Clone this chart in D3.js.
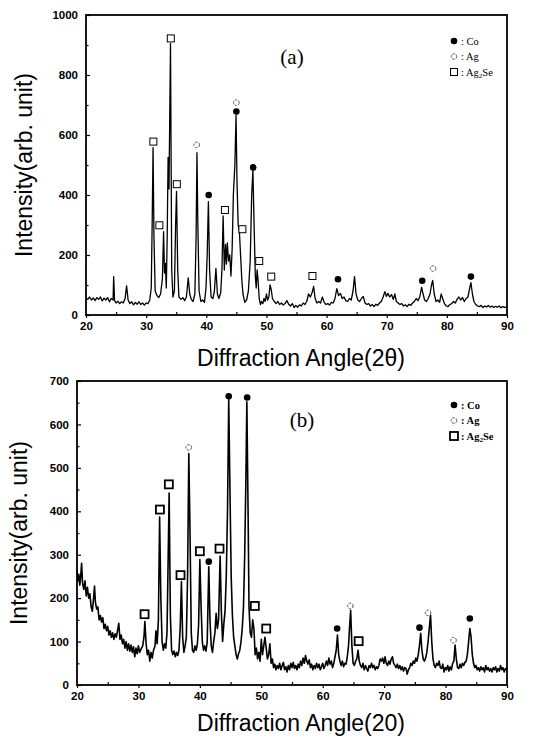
<!DOCTYPE html>
<html>
<head>
<meta charset="utf-8">
<script src="https://cdn.jsdelivr.net/npm/d3@7"></script>
<style>
  body { margin: 0; background: #fff; }
  svg { display: block; }
</style>
</head>
<body>
<script>
// XRD pattern (a): [2theta, intensity]
const patternA = [
  [20.0,58],[20.3,52],[20.6,60],[20.9,50],[21.2,57],[21.5,48],[21.8,58],[22.1,52],[22.4,60],[22.7,47],
  [23.0,56],[23.3,50],[23.6,58],[23.9,44],[24.2,55],[24.5,50],[24.6,128],[24.75,48],[25.0,40],[25.3,46],
  [25.6,38],[25.9,44],[26.2,40],[26.5,55],[26.75,97],[27.0,50],[27.3,38],[27.6,44],[27.9,34],[28.2,42],
  [28.5,36],[28.8,44],[29.1,35],[29.4,40],[29.7,33],[30.0,40],[30.3,38],[30.6,50],[30.85,90],[31.0,300],
  [31.15,558],[31.3,260],[31.5,80],[31.8,65],[32.1,58],[32.4,70],[32.7,120],[32.9,278],[33.05,140],[33.2,172],
  [33.35,90],[33.5,260],[33.65,525],[33.8,420],[34.05,905],[34.25,150],[34.45,60],[34.7,80],[34.9,300],[35.05,412],
  [35.25,150],[35.45,60],[35.8,52],[36.1,58],[36.4,48],[36.7,60],[37.0,124],[37.25,70],[37.5,52],[37.8,45],
  [38.1,70],[38.3,250],[38.45,541],[38.6,300],[38.8,80],[39.1,45],[39.4,50],[39.7,42],[39.95,90],[40.15,200],
  [40.35,378],[40.55,150],[40.8,60],[41.1,55],[41.35,80],[41.6,155],[41.85,70],[42.1,55],[42.4,75],[42.6,150],
  [42.8,330],[43.0,150],[43.2,235],[43.35,170],[43.5,240],[43.7,180],[43.9,200],[44.1,130],[44.3,220],[44.5,400],
  [44.75,500],[44.95,665],[45.1,450],[45.3,300],[45.5,280],[45.7,200],[45.9,120],[46.1,70],[46.4,42],[46.7,50],
  [47.0,80],[47.3,180],[47.55,400],[47.75,483],[47.95,300],[48.15,130],[48.3,90],[48.45,150],[48.6,120],[48.8,55],
  [49.0,35],[49.2,45],[49.4,38],[49.6,55],[49.8,45],[50.0,70],[50.2,50],[50.4,60],[50.6,100],[50.8,85],
  [51.0,55],[51.3,45],[51.6,38],[51.9,45],[52.2,35],[52.5,40],[52.8,33],[53.1,38],[53.4,48],[53.7,36],
  [54.0,30],[54.3,38],[54.6,25],[54.9,32],[55.2,26],[55.5,34],[55.8,30],[56.1,40],[56.4,35],[56.7,45],
  [57.0,70],[57.3,60],[57.6,75],[57.85,95],[58.1,55],[58.4,40],[58.7,45],[59.0,40],[59.3,60],[59.6,42],
  [59.9,35],[60.2,38],[60.5,33],[60.8,42],[61.1,40],[61.4,55],[61.7,88],[62.0,65],[62.3,72],[62.6,55],
  [62.9,60],[63.2,48],[63.5,45],[63.8,55],[64.1,50],[64.4,80],[64.65,128],[64.9,70],[65.2,50],[65.5,45],
  [65.8,55],[66.1,62],[66.4,40],[66.7,35],[67.0,38],[67.3,30],[67.6,35],[67.9,28],[68.2,36],[68.5,32],
  [68.8,40],[69.1,45],[69.4,60],[69.7,78],[69.95,62],[70.2,72],[70.5,60],[70.8,68],[71.1,52],[71.35,70],
  [71.6,45],[71.9,40],[72.2,35],[72.5,38],[72.8,30],[73.1,34],[73.4,28],[73.7,36],[74.0,32],[74.3,40],
  [74.6,45],[74.9,55],[75.2,48],[75.5,60],[75.8,92],[76.05,70],[76.3,50],[76.6,45],[76.9,55],[77.2,70],
  [77.45,100],[77.65,115],[77.9,70],[78.2,45],[78.5,50],[78.8,42],[79.05,70],[79.3,55],[79.6,38],[79.9,30],
  [80.2,28],[80.5,35],[80.8,38],[81.1,45],[81.4,40],[81.7,52],[82.0,60],[82.3,50],[82.6,58],[82.9,45],
  [83.2,55],[83.5,60],[83.8,90],[84.0,108],[84.25,70],[84.5,45],[84.8,35],[85.1,30],[85.4,28],[85.7,32],
  [86.0,25],[86.3,30],[86.6,27],[86.9,32],[87.2,26],[87.5,30],[87.8,25],[88.1,29],[88.4,26],[88.7,30],
  [89.0,24],[89.3,28],[89.6,25],[90.0,27]
];

// XRD pattern (b)
const patternB = [
  [20.0,265],[20.15,240],[20.3,255],[20.45,230],[20.6,250],[20.75,280],[20.9,235],[21.1,220],[21.3,240],[21.5,205],
  [21.7,225],[21.9,200],[22.1,210],[22.3,180],[22.5,170],[22.7,200],[22.85,228],[23.0,190],[23.2,175],[23.4,180],
  [23.6,150],[23.8,160],[24.0,145],[24.2,155],[24.4,130],[24.6,140],[24.8,125],[25.0,135],[25.2,115],[25.4,125],
  [25.6,110],[25.8,120],[26.0,105],[26.2,118],[26.4,110],[26.6,125],[26.8,142],[27.0,105],[27.2,115],[27.4,95],
  [27.6,105],[27.8,85],[28.0,100],[28.2,80],[28.4,95],[28.6,78],[28.8,92],[29.0,75],[29.2,88],[29.4,65],
  [29.6,85],[29.8,72],[30.0,90],[30.2,75],[30.4,82],[30.7,90],[30.9,110],[31.05,146],[31.25,95],[31.45,70],
  [31.65,80],[31.85,55],[32.05,75],[32.25,62],[32.45,80],[32.7,90],[32.85,125],[33.05,95],[33.25,150],[33.45,387],
  [33.65,200],[33.85,100],[34.05,80],[34.25,95],[34.45,85],[34.65,120],[34.85,300],[35.0,442],[35.2,160],[35.4,80],
  [35.6,70],[35.8,78],[36.0,65],[36.2,75],[36.4,68],[36.6,80],[36.8,130],[37.0,238],[37.2,110],[37.4,75],
  [37.6,90],[37.8,110],[38.0,250],[38.2,533],[38.4,350],[38.6,120],[38.8,80],[39.0,75],[39.2,90],[39.4,80],
  [39.6,95],[39.8,140],[40.0,289],[40.2,180],[40.4,100],[40.6,80],[40.8,90],[41.0,78],[41.2,100],[41.45,272],
  [41.65,150],[41.85,90],[42.05,75],[42.25,100],[42.45,120],[42.65,165],[42.85,130],[43.05,150],[43.3,297],[43.5,170],
  [43.7,100],[43.9,140],[44.1,170],[44.3,250],[44.5,400],[44.7,657],[44.9,450],[45.1,250],[45.3,160],[45.5,110],
  [45.7,90],[45.9,70],[46.1,60],[46.3,72],[46.5,80],[46.7,100],[46.9,130],[47.1,180],[47.3,300],[47.5,480],
  [47.65,652],[47.85,400],[48.0,180],[48.2,120],[48.4,110],[48.6,150],[48.8,130],[49.0,70],[49.2,85],[49.4,60],
  [49.6,75],[49.8,55],[50.0,105],[50.2,70],[50.4,90],[50.6,110],[50.8,85],[51.0,60],[51.2,70],[51.4,95],
  [51.6,50],[51.8,60],[52.0,40],[52.2,48],[52.4,35],[52.6,45],[52.8,38],[53.0,50],[53.2,35],[53.4,45],
  [53.6,52],[53.8,35],[54.0,42],[54.2,30],[54.4,45],[54.6,35],[54.8,50],[55.0,40],[55.2,52],[55.4,38],
  [55.6,45],[55.8,35],[56.0,48],[56.2,40],[56.4,55],[56.6,45],[56.8,62],[57.0,50],[57.2,68],[57.4,55],
  [57.6,48],[57.8,58],[58.0,40],[58.2,48],[58.4,35],[58.6,45],[58.8,38],[59.0,50],[59.2,40],[59.4,48],
  [59.6,35],[59.8,42],[60.0,50],[60.2,38],[60.4,45],[60.6,55],[60.8,45],[61.0,62],[61.2,48],[61.4,55],
  [61.6,40],[61.8,50],[62.0,65],[62.2,80],[62.4,115],[62.6,70],[62.8,55],[63.0,45],[63.2,55],[63.4,42],
  [63.6,50],[63.8,48],[64.0,65],[64.2,90],[64.4,140],[64.55,172],[64.75,90],[64.95,50],[65.15,45],[65.35,55],
  [65.55,60],[65.75,80],[65.95,55],[66.15,45],[66.35,40],[66.55,50],[66.75,35],[66.95,45],[67.15,38],[67.35,32],
  [67.55,45],[67.75,40],[67.95,50],[68.15,40],[68.35,45],[68.55,35],[68.75,42],[68.95,38],[69.15,45],[69.35,60],
  [69.55,55],[69.75,62],[69.95,50],[70.15,65],[70.35,50],[70.55,45],[70.75,55],[70.95,48],[71.15,60],[71.35,65],
  [71.55,50],[71.75,45],[71.95,40],[72.15,48],[72.35,38],[72.55,45],[72.75,35],[72.95,42],[73.15,32],[73.35,40],
  [73.55,38],[73.75,25],[73.95,35],[74.15,40],[74.35,50],[74.55,45],[74.75,55],[74.95,50],[75.15,62],[75.35,55],
  [75.55,70],[75.75,90],[75.95,119],[76.15,80],[76.35,60],[76.55,55],[76.75,62],[76.95,75],[77.15,100],[77.35,130],
  [77.55,161],[77.75,100],[77.95,60],[78.15,45],[78.35,40],[78.55,50],[78.75,45],[78.95,55],[79.15,40],[79.35,38],
  [79.55,48],[79.75,30],[79.95,40],[80.15,35],[80.35,45],[80.55,32],[80.75,42],[80.95,35],[81.15,50],[81.35,55],
  [81.55,92],[81.75,60],[81.95,40],[82.15,38],[82.35,48],[82.55,40],[82.75,50],[82.95,45],[83.15,52],[83.35,55],
  [83.55,70],[83.75,100],[83.95,130],[84.15,110],[84.35,70],[84.55,50],[84.75,40],[84.95,45],[85.15,35],[85.35,40],
  [85.55,32],[85.75,42],[85.95,35],[86.15,40],[86.35,30],[86.55,45],[86.75,35],[86.95,40],[87.15,32],[87.35,38],
  [87.55,30],[87.75,40],[87.95,35],[88.15,42],[88.35,30],[88.55,38],[88.75,32],[88.95,45],[89.15,35],[89.35,40],
  [89.55,30],[89.75,38],[90.0,35]
];

// peak markers: [2theta, intensity, phase]
const peaksA = [
  [31.2,578,"Ag2Se"],[32.2,299,"Ag2Se"],[34.1,922,"Ag2Se"],[35.1,436,"Ag2Se"],[38.4,567,"Ag"],
  [40.4,400,"Co"],[43.1,350,"Ag2Se"],[45.0,708,"Ag"],[45.0,678,"Co"],[46.0,286,"Ag2Se"],
  [47.8,492,"Co"],[48.8,180,"Ag2Se"],[50.8,128,"Ag2Se"],[57.65,130,"Ag2Se"],[61.9,119,"Co"],
  [75.9,114,"Co"],[77.7,155,"Ag"],[84.0,128,"Co"]
];
const peaksB = [
  [31.0,163,"Ag2Se"],[33.5,404,"Ag2Se"],[34.95,462,"Ag2Se"],[36.85,253,"Ag2Se"],[38.2,547,"Ag"],
  [40.0,308,"Ag2Se"],[41.45,284,"Co"],[43.2,314,"Ag2Se"],[44.7,665,"Co"],[47.7,662,"Co"],
  [48.95,182,"Ag2Se"],[50.8,130,"Ag2Se"],[62.35,130,"Co"],[64.5,182,"Ag"],[65.85,101,"Ag2Se"],
  [75.75,132,"Co"],[77.15,166,"Ag"],[81.3,103,"Ag"],[83.95,153,"Co"]
];

const phases = ["Co", "Ag", "Ag2Se"];
const xTicks = [20, 30, 40, 50, 60, 70, 80, 90];
const xMinor = [25, 35, 45, 55, 65, 75, 85];
const yTicksA = [0, 200, 400, 600, 800, 1000];
const yMinorA = [100, 300, 500, 700, 900];
const yTicksB = [0, 100, 200, 300, 400, 500, 600, 700];
const yMinorB = [50, 150, 250, 350, 450, 550, 650];

const width = 534;
const height = 739;

const svg = d3.select("body")
  .append("svg")
  .attr("width", width)
  .attr("height", height);

svg.append("rect").attr("width", width).attr("height", height).attr("fill", "#fff");

function marker(g, phase, cx, cy, heavy) {
  if (phase === "Co") {
    g.append("circle").attr("cx", cx).attr("cy", cy).attr("r", 3.3).attr("fill", "#000");
  } else if (phase === "Ag") {
    g.append("circle").attr("cx", cx).attr("cy", cy).attr("r", 2.8)
      .attr("fill", "#fff").attr("stroke", "#444").attr("stroke-width", 0.9)
      .attr("stroke-dasharray", "2.5,1.2");
  } else {
    const s = heavy ? 8 : 7;
    g.append("rect").attr("x", cx - s / 2).attr("y", cy - s / 2).attr("width", s).attr("height", s)
      .attr("fill", "#fff").attr("stroke", "#000").attr("stroke-width", heavy ? 1.8 : 1);
  }
}

function drawPanel(c) {
  const g = svg.append("g");
  const x = d3.scaleLinear().domain([20, 90]).range([c.left, c.right]);
  const y = d3.scaleLinear().domain([0, c.ymax]).range([c.bottom, c.top]);

  // trace
  g.append("path")
    .datum(c.data)
    .attr("fill", "none")
    .attr("stroke", "#000")
    .attr("stroke-width", c.lw)
    .attr("stroke-linejoin", "round")
    .attr("d", d3.line().x(d => x(d[0])).y(d => y(d[1])));

  // axes
  const gx = g.append("g").attr("transform", `translate(0,${c.bottom})`)
    .call(d3.axisBottom(x).tickValues(xTicks).tickSize(3).tickSizeOuter(0).tickPadding(4));
  const gxm = g.append("g").attr("transform", `translate(0,${c.bottom})`)
    .call(d3.axisBottom(x).tickValues(xMinor).tickSize(-3).tickFormat(""));
  const gy = g.append("g").attr("transform", `translate(${c.left},0)`)
    .call(d3.axisLeft(y).tickValues(c.yTicks).tickFormat(d3.format("d"))
      .tickSize(-4).tickSizeOuter(0).tickPadding(8));
  const gym = g.append("g").attr("transform", `translate(${c.left},0)`)
    .call(d3.axisLeft(y).tickValues(c.yMinor).tickSize(-2.5).tickFormat(""));
  [gx, gxm, gy, gym].forEach(a => {
    a.select(".domain").remove();
    a.selectAll("line").attr("stroke", "#000").attr("stroke-width", 1.2);
    a.selectAll("text")
      .attr("fill", "#000")
      .style("font-family", "'Liberation Sans', Arial, sans-serif")
      .style("font-size", "11.5px")
      .style("font-weight", "bold");
  });

  // frame
  g.append("rect")
    .attr("x", c.left).attr("y", c.top)
    .attr("width", c.right - c.left).attr("height", c.bottom - c.top)
    .attr("fill", "none").attr("stroke", "#000").attr("stroke-width", 1.8);

  // peak markers
  c.peaks.forEach(p => marker(g, p[2], x(p[0]), y(p[1]), c.heavy));

  // panel tag
  g.append("text")
    .attr("x", c.tag[0]).attr("y", c.tag[1])
    .attr("text-anchor", "middle")
    .style("font-family", "'Liberation Serif', 'Times New Roman', serif")
    .style("font-size", "21px")
    .text(c.tagText);

  // legend
  const lg = g.append("g")
    .style("font-family", "'Liberation Serif', 'Times New Roman', serif")
    .style("font-size", "10.5px")
    .style("font-weight", c.heavy ? "bold" : "normal");
  phases.forEach((ph, i) => {
    const ly = c.legend[1] + i * c.legendStep;
    marker(lg, ph, c.legend[0], ly, c.heavy);
    const t = lg.append("text").attr("x", c.legend[0] + 7).attr("y", ly + 3.5);
    if (ph === "Ag2Se") {
      t.append("tspan").text(": Ag");
      t.append("tspan").attr("dy", 2).style("font-size", "7px").text("2");
      t.append("tspan").attr("dy", -2).text("Se");
    } else {
      t.text(": " + ph);
    }
  });

  // axis titles
  g.append("text")
    .attr("x", 301).attr("y", c.xTitleY)
    .attr("text-anchor", "middle")
    .style("font-family", "'Liberation Sans', Arial, sans-serif")
    .style("font-size", "23px")
    .text(c.xTitle);
  g.append("text")
    .attr("transform", `translate(${c.yTitleX},${(c.top + c.bottom) / 2}) rotate(-90)`)
    .attr("text-anchor", "middle")
    .style("font-family", "'Liberation Sans', Arial, sans-serif")
    .style("font-size", "23px")
    .text("Intensity(arb. unit)");
}

drawPanel({
  data: patternA, peaks: peaksA, ymax: 1000, yTicks: yTicksA, yMinor: yMinorA,
  left: 86, right: 507, top: 15, bottom: 315, lw: 1.3, heavy: false,
  tag: [292, 64], tagText: "(a)", legend: [454, 41], legendStep: 15.5,
  xTitle: "Diffraction Angle(2\u03b8)", xTitleY: 366, yTitleX: 32
});

drawPanel({
  data: patternB, peaks: peaksB, ymax: 700, yTicks: yTicksB, yMinor: yMinorB,
  left: 77, right: 507, top: 381, bottom: 685, lw: 1.6, heavy: true,
  tag: [302, 427], tagText: "(b)", legend: [454, 405], legendStep: 15.5,
  xTitle: "Diffraction Angle(20)", xTitleY: 731, yTitleX: 27
});
</script>
</body>
</html>
